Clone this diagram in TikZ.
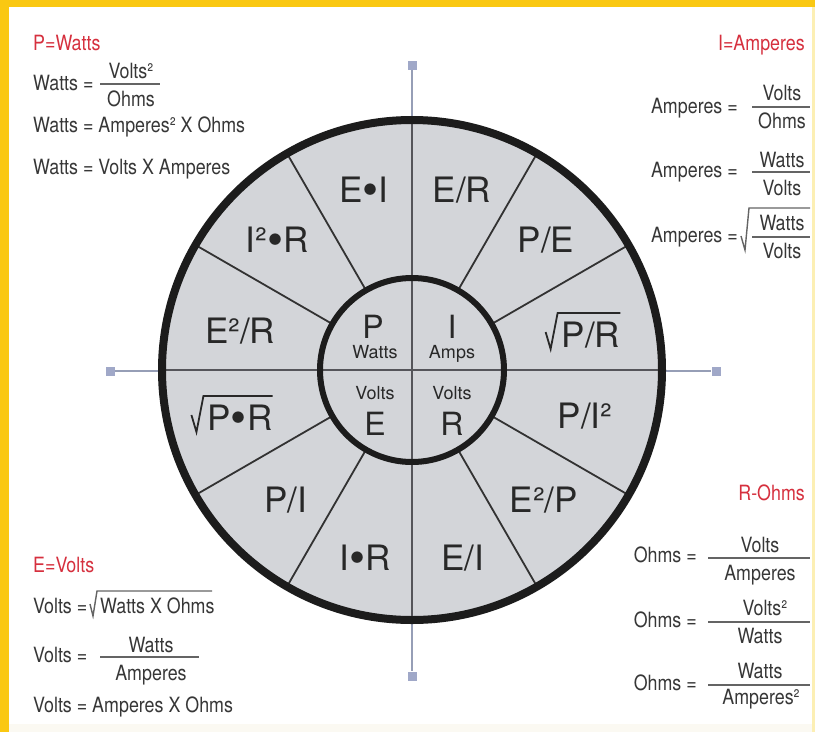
\documentclass[tikz,border=0pt]{standalone}
\usepackage{fontspec}
\setmainfont{TeX Gyre Heros}
\newfontfamily\condf[FakeStretch=0.85]{TeX Gyre Heros}
\usetikzlibrary{calc}
\definecolor{bandyel}{HTML}{FAC812}
\definecolor{edgeyel}{HTML}{FCEFB4}
\definecolor{cream}{RGB}{251,249,242}
\definecolor{redt}{RGB}{214,48,62}
\definecolor{txt}{RGB}{55,55,55}
\definecolor{lbl}{RGB}{40,40,40}
\definecolor{wheel}{RGB}{211,213,217}
\definecolor{rimc}{RGB}{28,28,28}
\definecolor{spk}{RGB}{50,50,50}
\definecolor{axl}{RGB}{150,158,182}
\definecolor{axd}{RGB}{85,85,90}
\definecolor{markc}{RGB}{160,168,200}
\definecolor{fracc}{RGB}{100,100,100}
\newcommand{\bdot}{\raisebox{-3.5pt}{\fontsize{46}{46}\selectfont •}}
\begin{document}
\begin{tikzpicture}[x=1pt,y=-1pt,
  ftxt/.style={font=\condf\fontsize{21}{24}\selectfont, text=txt, inner sep=0pt},
  ttl/.style={ftxt, text=redt},
  wl/.style={font=\fontsize{35}{40}\selectfont, text=lbl, inner sep=0pt, anchor=base},
  bigl/.style={font=\fontsize{32}{36}\selectfont, text=lbl, inner sep=0pt, anchor=base},
  sml/.style={font=\fontsize{18}{20}\selectfont, text=lbl, inner sep=0pt, anchor=base},
  frl/.style={draw=fracc, line width=1.5pt},
  sqf/.style={draw=fracc, line width=1.4pt, line join=miter},
  sqw/.style={draw=lbl, line width=1.8pt, line join=miter},
  markbox/.style={fill=markc, minimum size=9pt, inner sep=0pt, draw=none},
  axlight/.style={draw=axl, line width=1.8pt},
  axdark/.style={draw=axd, line width=1.8pt},
  spoke/.style={draw=spk, line width=1.8pt}
]
% background and frame
\fill[white] (0,0) rectangle (815,732);
\useasboundingbox (0,0) rectangle (815,732);
\fill[cream] (9,724) rectangle (812,732);
\fill[fill=bandyel] (0,0) rectangle (815,7);
\fill[fill=bandyel] (0,0) rectangle (9,732);
\fill[fill=edgeyel] (812,7) rectangle (815,732);

% axes with end markers
\coordinate (O) at (412,370);
\node[markbox] (mt) at (412,65) {};
\node[markbox] (mb) at (412,676) {};
\node[markbox] (ml) at (110,371) {};
\node[markbox] (mr) at (716,371) {};
\draw[axlight] (mt) -- (mb);
\draw[axlight] (ml) -- (mr);

% wheel
\fill[wheel] (O) circle (250pt);
\draw[axdark] ($(O)+(-250pt,0pt)$) -- ($(O)+(250pt,0pt)$);
\draw[axdark] ($(O)+(0pt,-250pt)$) -- ($(O)+(0pt,250pt)$);
\foreach \a in {30,60,120,150,210,240,300,330}
  \draw[spoke] ($(O)+(\a:92pt)$) -- ($(O)+(\a:250pt)$);
\draw[draw=rimc, line width=6pt] (O) circle (92pt);
\draw[draw=rimc, line width=8pt] (O) circle (250pt);

% inner labels
\node[bigl] (iP) at (373,338) {P};
\node[sml] (iW) at (375,358) {Watts};
\node[bigl] (iI) at (452,338) {I};
\node[sml] (iA) at (452,358) {Amps};
\node[sml] (iV1) at (375,399) {Volts};
\node[bigl] (iE) at (375,435) {E};
\node[sml] (iV2) at (452,399) {Volts};
\node[bigl] (iR) at (452,435) {R};

% outer ring labels
\node[wl] (s1) at (364,202) {E\bdot I};
\node[wl] (s2) at (462,202) {E/R};
\node[wl] (s3) at (546,252) {P/E};
\node[wl] (s4) at (591,347) {P/R};
\draw[sqw] ($(s4.base west)+(-16,-15)$) -- ($(s4.base west)+(-11,2)$) -- ($(s4.base west)+(-4,-34)$) -- ($(s4.base east)+(0,-34)$);
\node[wl] (s5) at (585,428) {P/I²};
\node[wl] (s6) at (544,512) {E²/P};
\node[wl] (s7) at (463,570) {E/I};
\node[wl] (s8) at (365,570) {I\bdot R};
\node[wl] (s9) at (286,512) {P/I};
\node[wl] (s10) at (240,430) {P\bdot R};
\draw[sqw] ($(s10.base west)+(-16,-15)$) -- ($(s10.base west)+(-11,2)$) -- ($(s10.base west)+(-4,-34)$) -- ($(s10.base east)+(0,-34)$);
\node[wl] (s11) at (240,343) {E²/R};
\node[wl] (s12) at (277,252) {I²\bdot R};

% P = Watts
\node[ttl,anchor=base west] (tP) at (33,50) {P=Watts};
\node[ftxt,anchor=base west] (w1) at (33,90) {Watts =};
\node[ftxt,anchor=base] (w1n) at (131,78) {Volts²};
\node[ftxt,anchor=base] (w1d) at (131,106) {Ohms};
\draw[frl] (100,84) -- (160,84);
\node[ftxt,anchor=base west] (w2) at (33,132) {Watts = Amperes² X Ohms};
\node[ftxt,anchor=base west] (w3) at (33,174) {Watts = Volts X Amperes};

% I = Amperes
\node[ttl,anchor=base east] (tI) at (805,50) {I=Amperes};
\node[ftxt,anchor=base east] (a1) at (738,113) {Amperes =};
\node[ftxt,anchor=base] (a1n) at (782,100) {Volts};
\node[ftxt,anchor=base] (a1d) at (782,128) {Ohms};
\draw[frl] (752,107) -- (810,107);
\node[ftxt,anchor=base east] (a2) at (738,177) {Amperes =};
\node[ftxt,anchor=base] (a2n) at (782,167) {Watts};
\node[ftxt,anchor=base] (a2d) at (782,195) {Volts};
\draw[frl] (752,172) -- (810,172);
\node[ftxt,anchor=base east] (a3) at (738,242) {Amperes =};
\node[ftxt,anchor=base] (a3n) at (782,230) {Watts};
\node[ftxt,anchor=base] (a3d) at (782,258) {Volts};
\draw[frl] (752,237) -- (810,237);
\draw[sqf] (741,236) -- (745,250) -- (749,208) -- (810,208);

% E = Volts
\node[ttl,anchor=base west] (tE) at (33,572) {E=Volts};
\node[ftxt,anchor=base west] (v1) at (33,613) {Volts =};
\node[ftxt,anchor=base west] (v1r) at (100,613) {Watts X Ohms};
\draw[sqf] (90,604) -- (93,616) -- (97,591) -- (212,591);
\node[ftxt,anchor=base west] (v2) at (33,662) {Volts =};
\node[ftxt,anchor=base] (v2n) at (151,652) {Watts};
\node[ftxt,anchor=base] (v2d) at (151,680) {Amperes};
\draw[frl] (100,657) -- (199,657);
\node[ftxt,anchor=base west] (v3) at (33,712) {Volts = Amperes X Ohms};

% R - Ohms
\node[ttl,anchor=base east] (tR) at (805,500) {R-Ohms};
\node[ftxt,anchor=base east] (o1) at (697,562) {Ohms =};
\node[ftxt,anchor=base] (o1n) at (760,552) {Volts};
\node[ftxt,anchor=base] (o1d) at (760,580) {Amperes};
\draw[frl] (708,558) -- (810,558);
\node[ftxt,anchor=base east] (o2) at (697,627) {Ohms =};
\node[ftxt,anchor=base] (o2n) at (765,615) {Volts²};
\node[ftxt,anchor=base] (o2d) at (760,643) {Watts};
\draw[frl] (708,622) -- (810,622);
\node[ftxt,anchor=base east] (o3) at (697,690) {Ohms =};
\node[ftxt,anchor=base] (o3n) at (760,678) {Watts};
\node[ftxt,anchor=base] (o3d) at (761,704) {Amperes²};
\draw[frl] (708,685) -- (810,685);
\end{tikzpicture}
\end{document}
